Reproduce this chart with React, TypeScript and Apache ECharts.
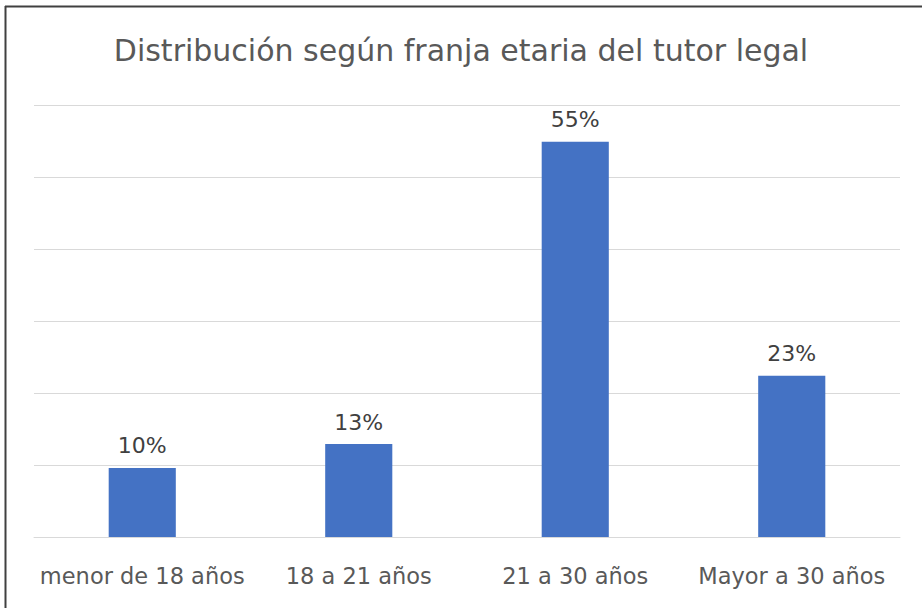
import React, { useEffect, useRef } from "react";
import * as echarts from "echarts";

const categories = ["menor de 18 años", "18 a 21 años", "21 a 30 años", "Mayor a 30 años"];
const values = [9.6, 12.9, 54.9, 22.4];
const labels = ["10%", "13%", "55%", "23%"];
const titleText = "Distribución según franja etaria del tutor legal";

export default function App() {
  const ref = useRef<HTMLDivElement>(null);
  useEffect(() => {
    document.body.style.margin = "0";
    const chart = echarts.init(ref.current!, null, { renderer: "svg" });
    chart.setOption({
      animation: false,
      backgroundColor: "#ffffff",
      title: {
        text: titleText,
        left: "center",
        top: 30,
        textStyle: { fontFamily: "DejaVu Sans", fontSize: 30, fontWeight: "normal", color: "#595959" },
      },
      grid: { left: 34, right: 22, top: 105, bottom: 71 },
      xAxis: {
        type: "category",
        data: categories,
        axisTick: { show: false },
        axisLine: { lineStyle: { color: "#d9d9d9", width: 1 } },
        axisLabel: { fontFamily: "DejaVu Sans", fontSize: 22.5, color: "#595959", margin: 27, interval: 0 },
      },
      yAxis: {
        type: "value",
        min: 0,
        max: 60,
        interval: 10,
        axisLabel: { show: false },
        axisLine: { show: false },
        axisTick: { show: false },
        splitLine: { lineStyle: { color: "#d9d9d9", width: 1 } },
      },
      series: [
        {
          type: "bar",
          data: values,
          barWidth: "31%",
          itemStyle: { color: "#4472c4" },
          label: {
            show: true,
            position: "top",
            distance: 11,
            formatter: (p: any) => labels[p.dataIndex],
            fontFamily: "DejaVu Sans",
            fontSize: 22,
            color: "#404040",
          },
        },
      ],
      graphic: [
        { type: "line", shape: { x1: 5, y1: 6.5, x2: 922, y2: 6.5 }, style: { stroke: "#404040", lineWidth: 2 } },
        { type: "line", shape: { x1: 5.5, y1: 6, x2: 5.5, y2: 608 }, style: { stroke: "#404040", lineWidth: 2 } },
      ],
    });
    return () => chart.dispose();
  }, []);
  return <div ref={ref} style={{ position: "fixed", left: 0, top: 0, width: 922, height: 608 }} />;
}
